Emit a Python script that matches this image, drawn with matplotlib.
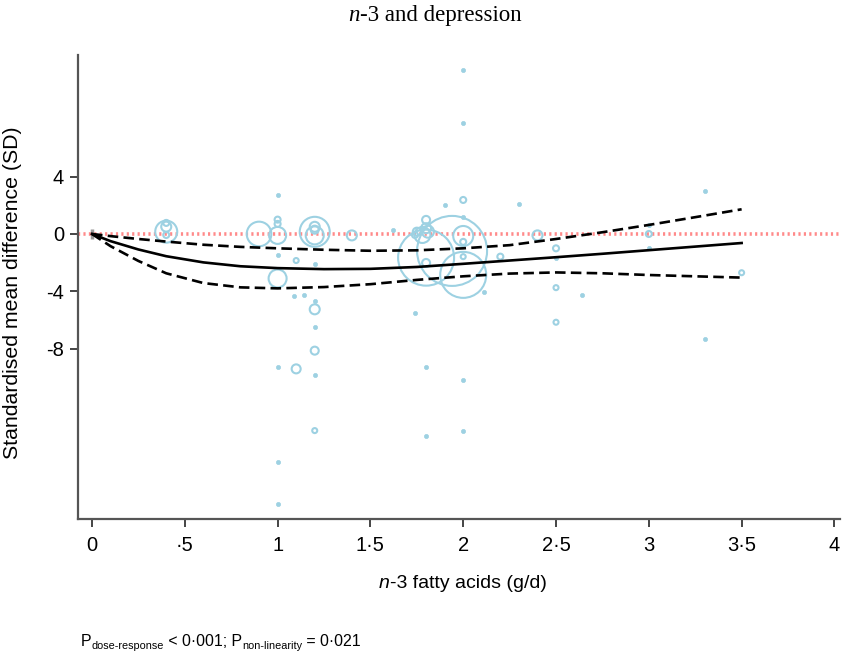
import matplotlib
matplotlib.use('Agg')
import matplotlib.pyplot as plt

# ---------------- data ----------------
curve_x = [0, 0.1, 0.25, 0.4, 0.6, 0.8, 1.0, 1.25, 1.5, 1.75, 2.0, 2.25, 2.5, 2.75, 3.0, 3.25, 3.5]
curve_mid = [0, -0.5, -1.08, -1.55, -1.98, -2.25, -2.38, -2.45, -2.43, -2.3, -2.08, -1.85, -1.62, -1.38, -1.13, -0.88, -0.63]
curve_upper = [0, -0.15, -0.35, -0.53, -0.75, -0.9, -1.0, -1.1, -1.17, -1.14, -1.0, -0.78, -0.35, 0.12, 0.63, 1.17, 1.72]
curve_lower = [0, -0.85, -1.88, -2.74, -3.42, -3.72, -3.79, -3.7, -3.5, -3.2, -2.95, -2.76, -2.68, -2.74, -2.86, -2.95, -3.04]

# study estimates shown as hollow circles (weight ~ radius)
circ_x = [0.4, 0.4, 0.4, 0.4, 0.9, 1.0, 1.0, 1.0, 1.0, 1.1, 1.1,
          1.2, 1.2, 1.2, 1.2, 1.2, 1.2, 1.2, 1.4,
          1.8, 1.8, 1.75, 1.81, 1.78, 1.74, 1.8, 1.8, 1.94,
          2.0, 2.0, 2.0, 2.0, 2.0, 2.2, 2.4, 2.5, 2.5, 2.5, 3.0, 3.5]
circ_y = [0.16, 0.77, 0.51, -0.07, 0.0, 1.0, 0.7, -0.1, -3.1, -1.85, -9.4,
          0.15, 0.5, -0.1, -5.25, -8.13, -13.7, 0.3, -0.1,
          0.98, 0.4, 0.16, 0.16, -0.07, -0.07, -2.02, -1.65, -1.18,
          -2.85, 2.37, -0.14, -0.55, -1.58, -1.58, -0.1, -1.0, -3.74, -6.15, 0.0, -2.7]
circ_w = [11, 3, 5, 3, 12.3, 3, 3, 8.5, 9, 2.5, 4.5,
          15, 5, 9, 5, 4, 2.5, 4, 5,
          4, 5, 4, 6, 8, 3, 4, 28, 35,
          23, 3, 10, 3, 2.5, 3, 5, 3, 2.5, 2.5, 3, 2.5]

# study estimates shown as small filled dots
dot_x = [1.0, 1.0, 1.0, 1.0, 1.0, 1.09, 1.14, 1.2, 1.2, 1.2, 1.2, 1.62, 1.74, 1.8, 1.8,
         1.9, 2.0, 2.0, 2.0, 2.0, 2.0, 2.11, 2.3, 2.5, 2.64, 3.0, 3.0, 3.3, 3.3]
dot_y = [2.7, -1.5, -9.25, -15.9, -18.8, -4.32, -4.27, -2.11, -4.65, -6.46, -9.8, 0.28, -5.5, -9.3, -14.1,
         2.02, 11.4, 7.7, 1.2, -10.2, -13.7, -4.06, 2.1, -1.65, -4.25, 0.63, -1.0, 3.0, -7.3]

ref_x = [0]
ref_y = [0]

x_ticks = [0, 0.5, 1, 1.5, 2, 2.5, 3, 3.5, 4]
x_ticklabels = ['0', '\u00b75', '1', '1\u00b75', '2', '2\u00b75', '3', '3\u00b75', '4']
y_ticks = [4, 0, -4, -8]
y_ticklabels = ['4', '0', '-4', '-8']

# ---------------- figure ----------------
W, H = 843, 657
fig = plt.figure(figsize=(W / 100, H / 100), dpi=100)
ax = fig.add_axes([78 / W, 1 - 519 / H, (840 - 78) / W, (519 - 55) / H])

ax.set_xlim(-0.0754, 4.03)
ax.set_ylim(-19.86, 12.47)

sans = 'Liberation Sans'
serif = 'Liberation Serif'
circ_col = '#9dd1e2'

# zero reference line
ax.axhline(0, color='#ff8a8a', lw=2.6, linestyle=(0, (0.6, 0.9)), zorder=1)

# circles
sizes = [(1.44 * r) ** 2 for r in circ_w]
ax.scatter(circ_x, circ_y, s=sizes, facecolors='none', edgecolors=circ_col, linewidths=1.5, zorder=2)
ax.scatter(dot_x, dot_y, s=9, facecolors=circ_col, edgecolors=circ_col, linewidths=0.5, zorder=2)
ax.scatter(ref_x, ref_y, marker='|', s=60, color='#999999', linewidths=2.5, zorder=3)

# curves
ax.plot(curve_x, curve_mid, color='black', lw=1.9, zorder=4)
ax.plot(curve_x, curve_upper, color='black', lw=1.9, linestyle=(0, (4, 2)), zorder=4)
ax.plot(curve_x, curve_lower, color='black', lw=1.9, linestyle=(0, (4, 2)), zorder=4)

# spines / ticks
for s in ['top', 'right']:
    ax.spines[s].set_visible(False)
for s in ['left', 'bottom']:
    ax.spines[s].set_color('#555555')
    ax.spines[s].set_linewidth(1.6)
ax.set_xticks(x_ticks)
ax.set_xticklabels(x_ticklabels, fontfamily=sans, fontsize=14.5)
ax.set_yticks(y_ticks)
ax.set_yticklabels(y_ticklabels, fontfamily=sans, fontsize=14.5)
ax.tick_params(axis='both', direction='out', length=6, width=1.4, color='#444444')
ax.tick_params(axis='x', pad=6)
ax.tick_params(axis='y', pad=4)

ax.set_ylabel('Standardised mean difference (SD)', fontfamily=sans, fontsize=15.3)
ax.yaxis.set_label_coords(-0.0735, 0.487)

# ---------- rich text helper ----------
fig.canvas.draw()
renderer = fig.canvas.get_renderer()


def rich(xpx, ypx, pieces, ha='left'):
    texts = []
    widths = []
    for s, kw, dy in pieces:
        t = fig.text(0, 0, s, va='baseline', ha='left', **kw)
        bb = t.get_window_extent(renderer=renderer)
        texts.append((t, dy))
        widths.append(bb.width)
    total = sum(widths)
    x0 = xpx - total / 2 if ha == 'center' else xpx
    for (t, dy), w in zip(texts, widths):
        t.set_position((x0 / W, 1 - (ypx - dy) / H))
        x0 += w


rich(435, 21, [('n', dict(fontfamily=serif, fontstyle='italic', fontsize=16.5), 0),
               ('-3 and depression', dict(fontfamily=serif, fontsize=16.5), 0)], ha='center')

rich(463, 588, [('n', dict(fontfamily=sans, fontstyle='italic', fontsize=14), 0),
                ('-3 fatty acids (g/d)', dict(fontfamily=sans, fontsize=14), 0)], ha='center')

rich(81, 646, [('P', dict(fontfamily=sans, fontsize=11.4), 0),
               ('dose-response', dict(fontfamily=sans, fontsize=7.8), -3),
               (' < 0\u00b7001; P', dict(fontfamily=sans, fontsize=11.4), 0),
               ('non-linearity', dict(fontfamily=sans, fontsize=7.8), -3),
               (' = 0\u00b7021', dict(fontfamily=sans, fontsize=11.4), 0)])

fig.savefig('out.png', dpi=100)
